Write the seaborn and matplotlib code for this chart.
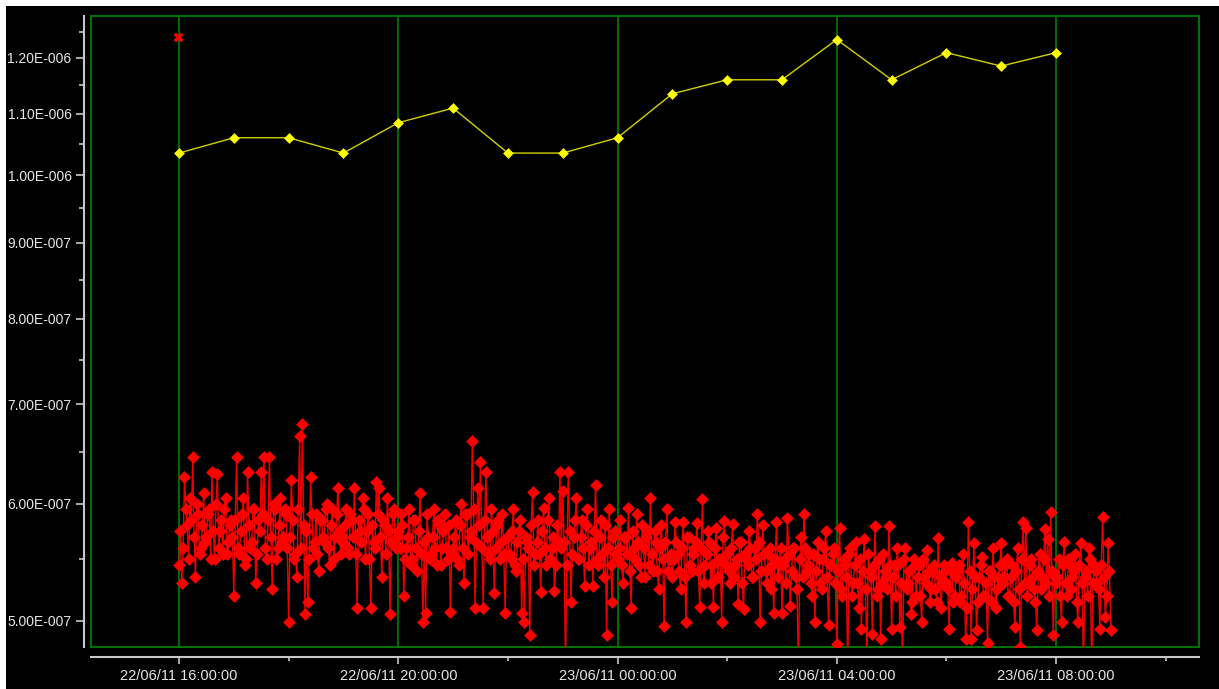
# %%
import numpy as np
import pandas as pd
import matplotlib
matplotlib.use("Agg")
import matplotlib.pyplot as plt
import matplotlib.dates as mdates
from matplotlib.ticker import FixedLocator, FuncFormatter, NullFormatter
from matplotlib.patches import Rectangle
import seaborn as sns

# %%
# hourly series (yellow), values in 1e-7
hourly_start = "2011-06-22 16:00"
hourly_vals = [10.35, 10.6, 10.6, 10.35, 10.85, 11.1, 10.35, 10.35, 10.6,
               11.35, 11.6, 11.6, 12.35, 11.6, 12.1, 11.85, 12.1]

# single flagged point near the top (red cross)
flag_time = ["2011-06-22 15:59"]
flag_vals = [12.4]

# fast series (red), values in 1e-7, one value every 1.5 minutes from 16:00
# "a" lists hold the samples on the 3-minute marks, "b" lists the ones in between
fast_start = "2011-06-22 16:00"
fast_step = "90s"
h16 = [5.45, 5.3, 6.25, 5.8, 6.05, 6.45, 5.35, 5.9, 5.6, 6.1, 5.7, 5.95, 6.3, 5.5, 6.28, 5.75, 5.55, 6.05, 5.65, 5.85]
h17 = [5.2, 6.45, 5.55, 5.9, 5.45, 6.3, 5.6, 5.95, 5.3, 5.85, 6.3, 6.45, 5.5, 6.45, 5.25, 5.95, 5.6, 6.05, 5.7, 5.9]
h18 = [4.99, 6.22, 5.5, 5.35, 6.66, 6.79, 5.05, 5.15, 6.25, 5.6, 5.9, 5.4, 5.85, 5.65, 6.0, 5.45, 5.95, 5.7, 6.15, 5.55]
h19 = [5.7, 5.95, 5.55, 5.85, 6.15, 5.1, 5.75, 6.05, 5.5, 5.9, 5.1, 5.65, 6.2, 6.15, 5.35, 5.8, 6.05, 5.05, 5.9, 5.6]
h20 = [5.75, 5.9, 5.2, 5.6, 5.95, 5.5, 5.85, 5.4, 6.1, 4.99, 5.06, 5.7, 5.55, 5.95, 5.45, 5.8, 5.6, 5.9, 5.5, 5.07]
h21 = [5.6, 5.85, 5.45, 6.0, 5.3, 5.9, 5.7, 6.61, 5.1, 6.15, 6.4, 5.1, 6.3, 5.55, 5.95, 5.22, 5.8, 5.5, 5.9, 5.06]
h22 = [5.7, 5.5, 5.95, 5.4, 5.75, 5.06, 4.99, 5.65, 4.89, 6.11, 5.55, 5.85, 5.23, 5.96, 5.45, 6.05, 5.6, 5.24, 5.8, 6.3]
h23 = [6.12, 4.6, 6.3, 5.15, 5.7, 6.05, 5.5, 5.85, 5.28, 5.95, 5.6, 5.28, 6.18, 5.45, 5.85, 5.35, 4.89, 5.95, 5.15, 5.75]
h00 = [5.5, 5.85, 5.3, 5.7, 5.96, 5.1, 5.6, 5.9, 5.45, 5.8, 5.35, 5.75, 6.05, 5.4, 5.65, 5.25, 5.8, 4.96, 5.95, 5.5]
h01 = [5.35, 5.83, 5.55, 5.25, 5.83, 4.99, 5.7, 5.4, 5.6, 5.82, 5.11, 6.04, 5.45, 5.75, 5.3, 5.11, 5.78, 5.5, 4.99, 5.84]
h02 = [5.55, 5.3, 5.81, 5.45, 5.13, 5.65, 5.09, 5.5, 5.75, 5.35, 5.6, 5.9, 4.99, 5.8, 5.4, 5.55, 5.25, 5.06, 5.83, 5.45]
h03 = [5.06, 5.5, 5.87, 5.12, 5.6, 5.35, 4.6, 5.7, 5.9, 5.4, 5.55, 5.2, 4.99, 5.65, 5.3, 5.5, 5.75, 4.97, 5.45, 5.6]
h04 = [4.82, 5.78, 5.2, 5.45, 4.6, 5.6, 5.3, 5.65, 5.1, 4.94, 5.68, 4.7, 5.4, 4.9, 5.79, 5.25, 4.86, 5.55, 5.35, 5.79]
h05 = [4.94, 5.45, 5.6, 4.95, 4.6, 5.6, 5.3, 5.05, 5.5, 5.2, 5.45, 4.99, 5.35, 5.58, 5.15, 5.4, 5.25, 5.69, 5.1, 5.45]
h06 = [5.3, 4.94, 5.47, 5.2, 5.4, 5.15, 5.55, 4.86, 5.83, 4.86, 5.64, 4.93, 5.35, 5.52, 5.2, 4.83, 5.4, 5.6, 5.1, 5.35]
h07 = [5.64, 5.35, 5.5, 5.2, 5.45, 4.95, 5.6, 4.8, 5.83, 5.78, 5.3, 5.5, 5.25, 4.93, 5.55, 5.35, 5.77, 5.68, 5.92, 4.89]
h08 = [5.3, 5.5, 4.99, 5.65, 5.2, 5.45, 5.35, 5.55, 4.99, 5.64, 4.6, 5.4, 5.6, 4.6, 5.45, 5.3, 4.94, 5.88, 5.03, 5.64, 4.93]

h16b = [5.75, 5.6, 5.95, 5.5, 5.85, 5.7, 6.0, 5.55, 5.8, 5.65, 5.9, 5.5, 5.75, 6.0, 5.6, 5.85, 5.95, 5.55, 5.8, 5.7]
h17b = [5.85, 5.6, 5.75, 6.05, 5.5, 5.8, 5.65, 5.95, 5.55, 5.75, 5.9, 5.6, 5.85, 5.7, 6.0, 5.5, 5.8, 5.65, 5.95, 5.6]
h18b = [5.7, 5.85, 5.55, 5.95, 5.6, 5.8, 5.75, 5.5, 5.9, 5.65, 5.55, 5.85, 5.7, 5.95, 5.6, 5.8, 5.5, 5.9, 5.75, 5.65]
h19b = [5.8, 5.6, 5.9, 5.7, 5.55, 5.85, 5.65, 5.95, 5.75, 5.5, 5.8, 5.6, 5.9, 5.7, 5.85, 5.55, 5.75, 5.65, 5.95, 5.7]
h20b = [5.6, 5.8, 5.5, 5.7, 5.45, 5.85, 5.6, 5.75, 5.55, 5.65, 5.9, 5.5, 5.7, 5.6, 5.85, 5.45, 5.75, 5.6, 5.8, 5.55]
h21b = [5.7, 5.5, 5.8, 5.6, 5.9, 5.55, 5.75, 5.95, 5.65, 5.8, 5.6, 5.85, 5.7, 5.5, 5.75, 5.6, 5.85, 5.65, 5.55, 5.7]
h22b = [5.55, 5.75, 5.45, 5.65, 5.85, 5.5, 5.7, 5.6, 5.8, 5.45, 5.65, 5.55, 5.75, 5.6, 5.85, 5.5, 5.7, 5.45, 5.65, 5.6]
h23b = [5.65, 5.45, 5.75, 5.55, 5.85, 5.5, 5.7, 5.6, 5.8, 5.45, 5.65, 5.75, 5.5, 5.7, 5.55, 5.8, 5.6, 5.45, 5.7, 5.55]
h00b = [5.6, 5.45, 5.7, 5.55, 5.4, 5.75, 5.5, 5.65, 5.35, 5.6, 5.7, 5.45, 5.55, 5.75, 5.4, 5.6, 5.5, 5.65, 5.4, 5.55]
h01b = [5.5, 5.65, 5.4, 5.6, 5.35, 5.7, 5.45, 5.55, 5.65, 5.4, 5.6, 5.3, 5.55, 5.65, 5.45, 5.6, 5.35, 5.5, 5.7, 5.45]
h02b = [5.4, 5.6, 5.35, 5.5, 5.65, 5.3, 5.55, 5.45, 5.6, 5.35, 5.5, 5.65, 5.4, 5.55, 5.3, 5.6, 5.45, 5.5, 5.35, 5.6]
h03b = [5.45, 5.3, 5.55, 5.4, 5.6, 5.25, 5.5, 5.35, 5.6, 5.45, 5.3, 5.55, 5.4, 5.5, 5.25, 5.6, 5.35, 5.45, 5.55, 5.3]
h04b = [5.4, 5.25, 5.5, 5.35, 5.55, 5.2, 5.45, 5.3, 5.5, 5.4, 5.25, 5.55, 5.35, 5.45, 5.2, 5.5, 5.3, 5.4, 5.25, 5.45]
h05b = [5.35, 5.2, 5.45, 5.3, 5.5, 5.25, 5.4, 5.15, 5.45, 5.35, 5.2, 5.5, 5.3, 5.4, 5.25, 5.45, 5.15, 5.35, 5.3, 5.4]
h06b = [5.25, 5.4, 5.15, 5.35, 5.45, 5.2, 5.3, 5.1, 5.4, 5.25, 5.35, 5.15, 5.45, 5.2, 5.3, 5.4, 5.15, 5.35, 5.25, 5.45]
h07b = [5.3, 5.45, 5.2, 5.35, 5.15, 5.4, 5.25, 5.5, 5.3, 5.2, 5.45, 5.35, 5.15, 5.4, 5.25, 5.5, 5.3, 5.2, 5.4, 5.35]
h08b = [5.35, 5.2, 5.45, 5.3, 5.5, 5.25, 5.4, 5.15, 5.45, 5.3, 5.35, 5.2, 5.5, 5.3, 5.4, 5.25, 5.45, 5.35, 5.2, 5.4]

y_ticks = [5.0, 6.0, 7.0, 8.0, 9.0, 10.0, 11.0, 12.0]
y_minor = [5.5, 6.5, 7.5, 8.5, 9.5, 10.5, 11.5, 12.5]

# %%
on_marks = h16 + h17 + h18 + h19 + h20 + h21 + h22 + h23 + h00 + h01 + h02 + h03 + h04 + h05 + h06 + h07 + h08
between = h16b + h17b + h18b + h19b + h20b + h21b + h22b + h23b + h00b + h01b + h02b + h03b + h04b + h05b + h06b + h07b + h08b
merged = []
for i, v in enumerate(on_marks):
    merged.append(v)
    if i < len(between):
        merged.append(between[i])
fast_vals = np.array(merged) * 1e-7

fast = pd.DataFrame({
    "time": pd.date_range(fast_start, periods=len(fast_vals), freq=fast_step),
    "value": fast_vals,
})
hourly = pd.DataFrame({
    "time": pd.date_range(hourly_start, periods=len(hourly_vals), freq="1h"),
    "value": np.array(hourly_vals) * 1e-7,
})
flag = pd.DataFrame({"time": pd.to_datetime(flag_time), "value": np.array(flag_vals) * 1e-7})

# %%
sns.set_theme(style="dark")
plt.rcParams["font.family"] = ["Liberation Sans", "DejaVu Sans"]

W, H = 1219, 689
fig = plt.figure(figsize=(W / 100, H / 100), dpi=100, facecolor="white")
fig.add_artist(Rectangle((6 / W, 0), 1, (H - 6) / H, transform=fig.transFigure,
                         facecolor="black", edgecolor="none", zorder=-10))
ax = fig.add_axes([91 / W, 42 / H, 1108 / W, 631 / H])
ax.set_facecolor("black")

sns.lineplot(data=fast, x="time", y="value", ax=ax, color="#ee0000", linewidth=1.0,
             marker="D", markersize=6.3, markerfacecolor="#ff0000",
             markeredgecolor="#ff0000", markeredgewidth=0.4,
             estimator=None, sort=False, zorder=3)
sns.lineplot(data=hourly, x="time", y="value", ax=ax, color="#d2d200", linewidth=1.0,
             marker="D", markersize=5.4, markerfacecolor="#ffff00",
             markeredgecolor="#ffff00", markeredgewidth=0.4,
             estimator=None, sort=False, zorder=4)
sns.scatterplot(data=flag, x="time", y="value", ax=ax, color="#ff0000", marker="X",
                s=50, linewidth=0, zorder=5)

ax.set_yscale("log")
ax.set_ylim(4.80e-7, 1.281e-6)
ax.set_xlim(pd.Timestamp("2011-06-22 14:23:40"), pd.Timestamp("2011-06-23 10:36:30"))

ax.yaxis.set_major_locator(FixedLocator([v * 1e-7 for v in y_ticks]))
ax.yaxis.set_minor_locator(FixedLocator([v * 1e-7 for v in y_minor]))


def sci_fmt(v, pos):
    e = int(np.floor(np.log10(v) + 1e-9))
    m = v / 10 ** e
    return "%.2fE%s%03d" % (m, "-" if e < 0 else "+", abs(e))


ax.yaxis.set_major_formatter(FuncFormatter(sci_fmt))
ax.yaxis.set_minor_formatter(NullFormatter())

ax.xaxis.set_major_locator(mdates.HourLocator(byhour=range(0, 24, 4)))
ax.xaxis.set_minor_locator(mdates.HourLocator(byhour=range(0, 24, 2)))
ax.xaxis.set_major_formatter(mdates.DateFormatter("%d/%m/%y %H:%M:%S"))

ax.set_xlabel("")
ax.set_ylabel("")

# green gridlines and frame
ax.grid(False)
ax.xaxis.grid(True, which="major", color="#008000", linewidth=1.2)
ax.set_axisbelow(True)
ax.add_patch(Rectangle((0, 0), 1, 1, transform=ax.transAxes, fill=False,
                       edgecolor="#007000", linewidth=1.5, clip_on=False, zorder=2))

# grey offset axes
for side in ["top", "right"]:
    ax.spines[side].set_visible(False)
ax.spines["left"].set_position(("outward", 5))
ax.spines["bottom"].set_position(("outward", 7))
for side in ["left", "bottom"]:
    ax.spines[side].set_color("#c8c8c8")
    ax.spines[side].set_linewidth(1.5)

ax.tick_params(axis="y", which="major", left=True, length=6, width=1.2, color="#c8c8c8",
               labelcolor="#e6e6e6", labelsize=10, pad=3)
ax.tick_params(axis="y", which="minor", left=True, length=3.5, width=1.2, color="#c8c8c8")
ax.tick_params(axis="x", which="major", bottom=True, length=5, width=1.2, color="#c8c8c8",
               labelcolor="#e6e6e6", labelsize=10.5, pad=4)
ax.tick_params(axis="x", which="minor", bottom=True, length=3, width=1.2, color="#c8c8c8")

fig.savefig("out.png", dpi=100, facecolor=fig.get_facecolor())
